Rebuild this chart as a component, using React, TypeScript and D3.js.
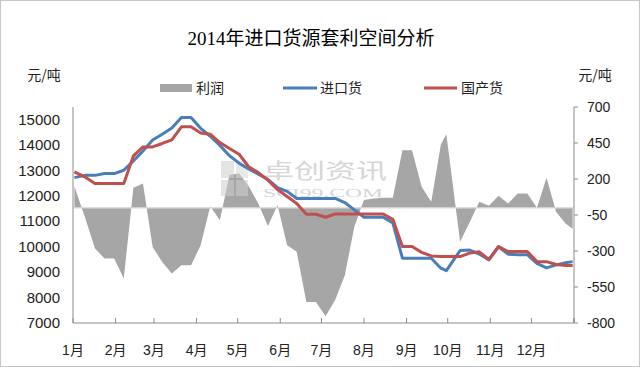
import React from "react";
import * as d3 from "d3";

// weekly quotes (mostly Fridays) for 2014
const dates = [
  "2014-01-02", "2014-01-10", "2014-01-17", "2014-01-24", "2014-01-31", "2014-02-07",
  "2014-02-14", "2014-02-21", "2014-02-28", "2014-03-07", "2014-03-14", "2014-03-21",
  "2014-03-28", "2014-04-04", "2014-04-11", "2014-04-18", "2014-04-25", "2014-05-02",
  "2014-05-09", "2014-05-16", "2014-05-23", "2014-05-30", "2014-06-06", "2014-06-13",
  "2014-06-20", "2014-06-27", "2014-07-04", "2014-07-11", "2014-07-18", "2014-07-25",
  "2014-08-01", "2014-08-08", "2014-08-15", "2014-08-22", "2014-08-29", "2014-09-05",
  "2014-09-12", "2014-09-19", "2014-09-26", "2014-09-30", "2014-10-10", "2014-10-17",
  "2014-10-24", "2014-10-31", "2014-11-07", "2014-11-14", "2014-11-21", "2014-11-28",
  "2014-12-05", "2014-12-12", "2014-12-19", "2014-12-26", "2014-12-31",
];

// 进口货
const imported = [
  12720, 12810, 12810, 12880, 12880, 13010, 13380, 13770, 14200, 14430, 14670, 15090,
  15090, 14660, 14350, 13990, 13580, 13290, 13060, 12860, 12650, 12330, 12180, 11900,
  11900, 11900, 11900, 11900, 11740, 11450, 11160, 11160, 11160, 10940, 9550, 9550,
  9550, 9550, 9155, 9060, 9850, 9870, 9715, 9480, 10000, 9710, 9690, 9690,
  9350, 9170, 9285, 9375, 9415,
];

// 国产货
const domestic = [
  12950, 12740, 12490, 12490, 12490, 12490, 13575, 13930, 13930, 14065, 14210, 14720,
  14720, 14480, 14430, 14100, 13870, 13640, 13150, 12920, 12620, 12250, 11980, 11700,
  11280, 11280, 11160, 11290, 11290, 11290, 11290, 11290, 11290, 11080, 10010, 10010,
  9780, 9640, 9615, 9615, 9615, 9750, 9800, 9500, 10010, 9810, 9810, 9810,
  9415, 9415, 9300, 9260, 9260,
];

// 利润
const profit = [
  150, -75, -283, -352, -352, -491, 139, 169, -272, -376, -457, -399,
  -399, -260, 10, -86, 227, 240, 150, 30, -127, 20, -260, -306,
  -654, -654, -753, -640, -470, -130, 55, 65, 70, 70, 400, 400,
  146, 42, 440, 510, -236, -100, 42, 15, 83, 30, 100, 100,
  0, 208, -30, -110, -145,
];

const leftTicks = [7000, 8000, 9000, 10000, 11000, 12000, 13000, 14000, 15000];
const rightTicks = [700, 450, 200, -50, -300, -550, -800];
const monthLabels = ["1月", "2月", "3月", "4月", "5月", "6月", "7月", "8月", "9月", "10月", "11月", "12月"];

const W = 640;
const H = 367;
const left = 73;
const right = 574;
const top = 107;
const bottom = 323;

const labelFont = "'Liberation Sans', 'Noto Sans CJK SC', sans-serif";
const cjkFont = "'Noto Sans CJK SC', 'Liberation Sans', sans-serif";

export default function App() {
  const parse = d3.timeParse("%Y-%m-%d");
  const days = dates.map((d) => parse(d) as Date);

  const x = d3.scaleTime()
    .domain([new Date(2014, 0, 1), new Date(2015, 0, 1)])
    .range([left, right]);
  const yL = d3.scaleLinear().domain([7000, 15500]).range([bottom, top]);
  const yR = d3.scaleLinear().domain([-800, 700]).range([bottom, top]);

  const months = d3.timeMonth.range(new Date(2014, 0, 1), new Date(2015, 0, 2));

  const area = d3.area<number>()
    .x((d, i) => x(days[i]))
    .y0(yR(0))
    .y1((d) => yR(d));

  const line = d3.line<number>()
    .x((d, i) => x(days[i]))
    .y((d) => yL(d));

  const axisColor = "#8c8c8c";

  return (
    <div style={{ position: "absolute", left: 0, top: 0 }}>
      <svg width={W} height={H} style={{ display: "block" }}>
        <rect x={0.5} y={0.5} width={W - 1} height={H - 1} fill="#fff" stroke="#c6c6c6" />

        <text x={311} y={45} textAnchor="middle" fontSize={19}
          fontFamily="'Liberation Serif', 'Noto Sans CJK SC', serif" fill="#000">
          2014年进口货源套利空间分析
        </text>

        <text x={44} y={80} textAnchor="middle" fontSize={14} fontFamily={cjkFont} fill="#222">元/吨</text>
        <text x={595} y={80} textAnchor="middle" fontSize={14} fontFamily={cjkFont} fill="#222">元/吨</text>

        {/* legend */}
        <rect x={160} y={84} width={32} height={8} fill="#a5a5a5" />
        <text x={196} y={93} fontSize={14} fontFamily={cjkFont} fill="#222">利润</text>
        <line x1={283} x2={317} y1={88} y2={88} stroke="#4a7ebb" strokeWidth={3} />
        <text x={320} y={93} fontSize={14} fontFamily={cjkFont} fill="#222">进口货</text>
        <line x1={424} x2={457} y1={88} y2={88} stroke="#c0504d" strokeWidth={3} />
        <text x={461} y={93} fontSize={14} fontFamily={cjkFont} fill="#222">国产货</text>

        {/* profit area */}
        <path d={area(profit) ?? ""} fill="#a6a6a6" />
        <line x1={left} x2={right} y1={yR(0)} y2={yR(0)} stroke="#d9d9d9" strokeWidth={1.2} />

        {/* watermark */}
        <g opacity={0.55}>
          <rect x={221} y={161} width={13} height={17} fill="#cfcfcf" />
          <rect x={221} y={180} width={13} height={16} fill="#cfcfcf" />
          <rect x={236} y={161} width={12} height={17} fill="#d8d8d8" />
          <rect x={236} y={180} width={12} height={16} fill="#cfcfcf" />
          <text x={263} y={178} fontSize={21} textLength={124} lengthAdjust="spacingAndGlyphs"
            fontFamily={cjkFont} fill="#b5b5b5">卓创资讯</text>
          <text x={263} y={197} fontSize={12} textLength={120} lengthAdjust="spacingAndGlyphs"
            fontFamily="'Liberation Serif', serif" fill="#b5b5b5">SCI99.COM</text>
        </g>

        <path d={line(imported) ?? ""} fill="none" stroke="#4a7ebb" strokeWidth={3} strokeLinejoin="round" />
        <path d={line(domestic) ?? ""} fill="none" stroke="#c0504d" strokeWidth={3} strokeLinejoin="round" />

        {/* axes */}
        <line x1={left} x2={left} y1={top} y2={bottom} stroke={axisColor} />
        <line x1={right} x2={right} y1={top} y2={bottom} stroke={axisColor} />
        <line x1={left} x2={right} y1={bottom} y2={bottom} stroke={axisColor} />
        {rightTicks.map((t) => (
          <g key={t}>
            <line x1={right} x2={right + 4} y1={yR(t)} y2={yR(t)} stroke={axisColor} />
            <text x={587} y={yR(t) + 5} fontSize={14} fontFamily={labelFont} fill="#222">{t}</text>
          </g>
        ))}
        {leftTicks.map((t) => (
          <text key={t} x={60} y={yL(t) + 5} textAnchor="end" fontSize={15} fontFamily={labelFont} fill="#222">{t}</text>
        ))}
        {[...months, new Date(2015, 0, 1)].map((m, i) => (
          <line key={i} x1={x(m)} x2={x(m)} y1={bottom} y2={bottom - 5} stroke={axisColor} />
        ))}
        {months.map((m, i) => (
          <text key={i} x={x(m)} y={355} textAnchor="middle" fontSize={14} fontFamily={labelFont} fill="#222">
            {monthLabels[i]}
          </text>
        ))}
      </svg>
    </div>
  );
}
